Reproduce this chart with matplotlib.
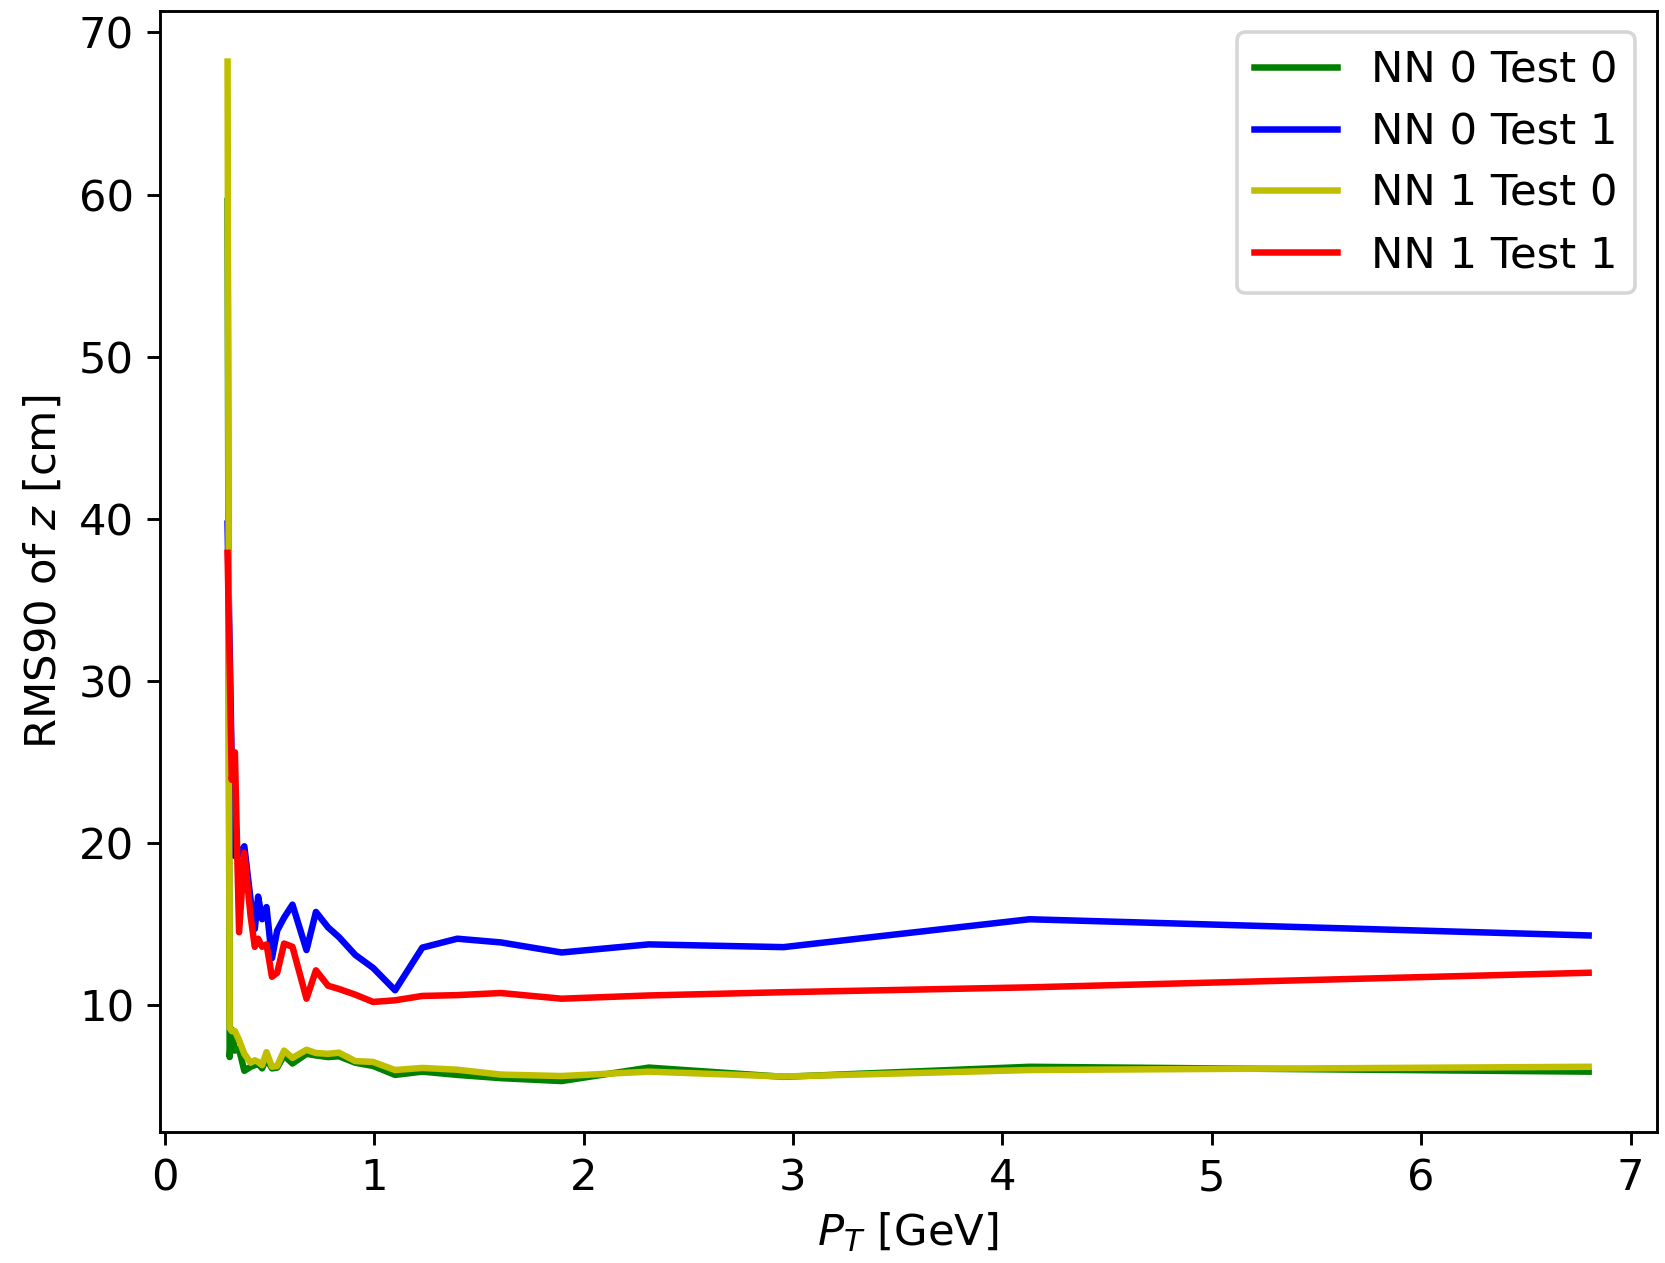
import numpy as np
import matplotlib
matplotlib.use("Agg")
import matplotlib.pyplot as plt

# shared pT bin centres [GeV]
pt = [0.300, 0.310, 0.320, 0.335, 0.355, 0.380, 0.410, 0.430, 0.446, 0.465,
      0.486, 0.512, 0.537, 0.570, 0.610, 0.677, 0.722, 0.780, 0.832, 0.910,
      0.995, 1.100, 1.230, 1.397, 1.605, 1.895, 2.312, 2.955, 4.130, 6.800]

# RMS90 of z [cm]
nn0_test0 = [59.6, 6.8, 8.5, 7.2, 7.3, 5.95, 6.2, 6.3, 6.4, 6.1,
             6.7, 6.1, 6.15, 6.9, 6.4, 7.0, 6.9, 6.8, 6.85, 6.45,
             6.25, 5.7, 5.9, 5.7, 5.5, 5.32, 6.15, 5.58, 6.2, 5.9]
nn0_test1 = [39.7, 32.0, 24.8, 19.2, 19.3, 19.8, 16.5, 14.7, 16.7, 15.3,
             16.05, 12.9, 14.6, 15.4, 16.2, 13.4, 15.75, 14.8, 14.2, 13.1,
             12.3, 10.92, 13.55, 14.1, 13.87, 13.25, 13.75, 13.58, 15.3, 14.3]
nn1_test0 = [68.2, 8.6, 8.4, 8.4, 7.85, 7.0, 6.45, 6.6, 6.5, 6.3,
             7.1, 6.2, 6.25, 7.2, 6.75, 7.25, 7.05, 7.0, 7.07, 6.55,
             6.5, 6.0, 6.13, 6.02, 5.72, 5.63, 5.9, 5.6, 6.0, 6.2]
nn1_test1 = [37.9, 31.0, 23.9, 25.6, 14.5, 19.4, 15.5, 13.6, 14.1, 13.6,
             13.75, 11.75, 12.0, 13.8, 13.6, 10.4, 12.15, 11.2, 11.0, 10.65,
             10.2, 10.3, 10.57, 10.62, 10.75, 10.4, 10.6, 10.8, 11.1, 12.0]

series = [
    ("NN 0 Test 0", nn0_test0, "g"),
    ("NN 0 Test 1", nn0_test1, "b"),
    ("NN 1 Test 0", nn1_test0, "y"),
    ("NN 1 Test 1", nn1_test1, "r"),
]

DPI = 260
fig = plt.figure(figsize=(1665 / DPI, 1263 / DPI), dpi=DPI)
ax = fig.add_axes([0.0958, 0.1037, 0.8992, 0.8879])

for label, vals, col in series:
    ax.plot(pt, vals, color=col, lw=1.8, label=label)

ax.set_xlabel("$P_T$ [GeV]", fontsize=12, labelpad=3)
ax.set_ylabel("RMS90 of $z$ [cm]", fontsize=12)
ax.tick_params(labelsize=12)
ax.legend(loc="upper right", fontsize=12, labelspacing=0.45,
          handlelength=1.9)

fig.savefig("out.png", dpi=DPI)
